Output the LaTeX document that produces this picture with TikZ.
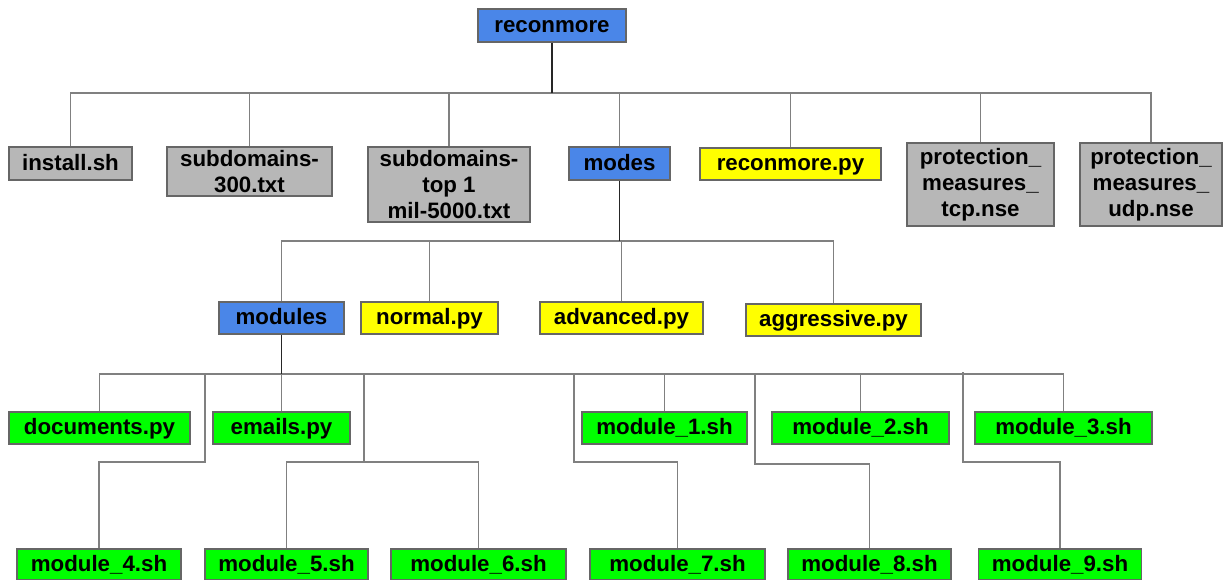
\documentclass[tikz,border=0pt]{standalone}
\usepackage{fontspec}
\setmainfont{Liberation Sans}
\definecolor{dirblue}{HTML}{4A86E8}
\definecolor{pyyellow}{HTML}{FFFF00}
\definecolor{shgreen}{HTML}{00FF00}
\definecolor{filegray}{HTML}{B7B7B7}
\definecolor{linegray}{HTML}{808080}
\tikzset{
  box/.style={draw=black!60, line width=1.2pt, inner sep=0pt, align=center,
    font=\bfseries\fontsize{22.3}{26}\selectfont},
  oneline/.style={text height=16pt, text depth=2.5pt},
  dirbox/.style={box, oneline, fill=dirblue},
  pybox/.style={box, oneline, fill=pyyellow},
  shbox/.style={box, oneline, fill=shgreen},
  filebox/.style={box, fill=filegray},
  link/.style={draw=linegray, line width=1.3pt},
  trunk/.style={draw=black!85, line width=1.3pt}
}
\begin{document}
\begin{tikzpicture}[x=1pt,y=-1pt]
\useasboundingbox (0,0) rectangle (1223,580);

%Drawing top level
\node[dirbox, minimum width=148, minimum height=33] (reconmore) at (552,25.5) {reconmore};
\node[filebox, oneline, minimum width=123, minimum height=33] (install) at (70.5,163.5) {install.sh};
\node[filebox, minimum width=165, minimum height=49] (sub300) at (249.5,171.5) {subdomains-\\300.txt};
\node[filebox, minimum width=162, minimum height=75] (subtop) at (449,184.5) {subdomains-\\top 1\\mil-5000.txt};
\node[dirbox, minimum width=101, minimum height=33] (modes) at (619.5,163.5) {modes};
\node[pybox, minimum width=181, minimum height=32] (reconpy) at (790.5,164) {reconmore.py};
\node[filebox, minimum width=147, minimum height=83] (tcp) at (980.5,184.5) {protection\_\\measures\_\\tcp.nse};
\node[filebox, minimum width=142, minimum height=83] (udp) at (1151,184.5) {protection\_\\measures\_\\udp.nse};

%Drawing modes
\node[dirbox, minimum width=125, minimum height=32] (modules) at (281.5,318) {modules};
\node[pybox, minimum width=137, minimum height=32] (normal) at (429.5,318) {normal.py};
\node[pybox, minimum width=163, minimum height=32] (advanced) at (621.5,318) {advanced.py};
\node[pybox, minimum width=175, minimum height=32] (aggressive) at (833.5,320) {aggressive.py};

%Drawing modules
\node[shbox, minimum width=181, minimum height=32] (documents) at (99.5,428) {documents.py};
\node[shbox, minimum width=137, minimum height=32] (emails) at (281.5,428) {emails.py};
\node[shbox, minimum width=165, minimum height=32] (mod1) at (664.5,428) {module\_1.sh};
\node[shbox, minimum width=177, minimum height=32] (mod2) at (860.5,428) {module\_2.sh};
\node[shbox, minimum width=177, minimum height=32] (mod3) at (1063.5,428) {module\_3.sh};

\node[shbox, minimum width=164, minimum height=31] (mod4) at (99,564.5) {module\_4.sh};
\node[shbox, minimum width=163, minimum height=31] (mod5) at (286.5,564.5) {module\_5.sh};
\node[shbox, minimum width=175, minimum height=31] (mod6) at (478.5,564.5) {module\_6.sh};
\node[shbox, minimum width=175, minimum height=31] (mod7) at (677.5,564.5) {module\_7.sh};
\node[shbox, minimum width=163, minimum height=31] (mod8) at (869.5,564.5) {module\_8.sh};
\node[shbox, minimum width=163, minimum height=31] (mod9) at (1060,564.5) {module\_9.sh};

%bus points
\coordinate (bus1) at (552,93);
\coordinate (bus2) at (619.5,241);
\coordinate (bus3) at (281.5,374);
\coordinate (j4) at (205,374);
\coordinate (k4) at (205,462);
\coordinate (j56) at (364,374);
\coordinate (k56) at (364,462);
\coordinate (j7) at (574,374);
\coordinate (k7) at (574,462);
\coordinate (j8) at (755,374);
\coordinate (k8) at (755,464);
\coordinate (j9) at (963,372);
\coordinate (k9) at (963,462);

%connecting top level
\draw[link] (bus1) -| (install.north);
\draw[link] (bus1) -| (sub300.north);
\draw[link] (bus1) -| (subtop.north);
\draw[link] (bus1) -| (modes.north);
\draw[link] (bus1) -| (reconpy.north);
\draw[link] (bus1) -| (tcp.north);
\draw[link] (bus1) -| (udp.north);
\draw[trunk] (reconmore.south) -- (bus1);

%connecting modes
\draw[link] (bus2) -| (modules.north);
\draw[link] (bus2) -| (normal.north);
\draw[link] (bus2) -| (advanced.north);
\draw[link] (bus2) -| (aggressive.north);
\draw[trunk] (modes.south) -- (bus2);

%connecting modules
\draw[link] (bus3) -| (documents.north);
\draw[link] (bus3) -- (emails.north);
\draw[link] (bus3) -| (mod1.north);
\draw[link] (bus3) -| (mod2.north);
\draw[link] (bus3) -| (mod3.north);
\draw[link] (j4) -- (k4) -| (mod4.north);
\draw[link] (j56) -- (k56) -| (mod5.north);
\draw[link] (k56) -| (mod6.north);
\draw[link] (j7) -- (k7) -| (mod7.north);
\draw[link] (j8) -- (k8) -| (mod8.north);
\draw[link] (j9) -- (k9) -| (mod9.north);
\draw[trunk] (modules.south) -- (bus3);
\end{tikzpicture}
\end{document}
